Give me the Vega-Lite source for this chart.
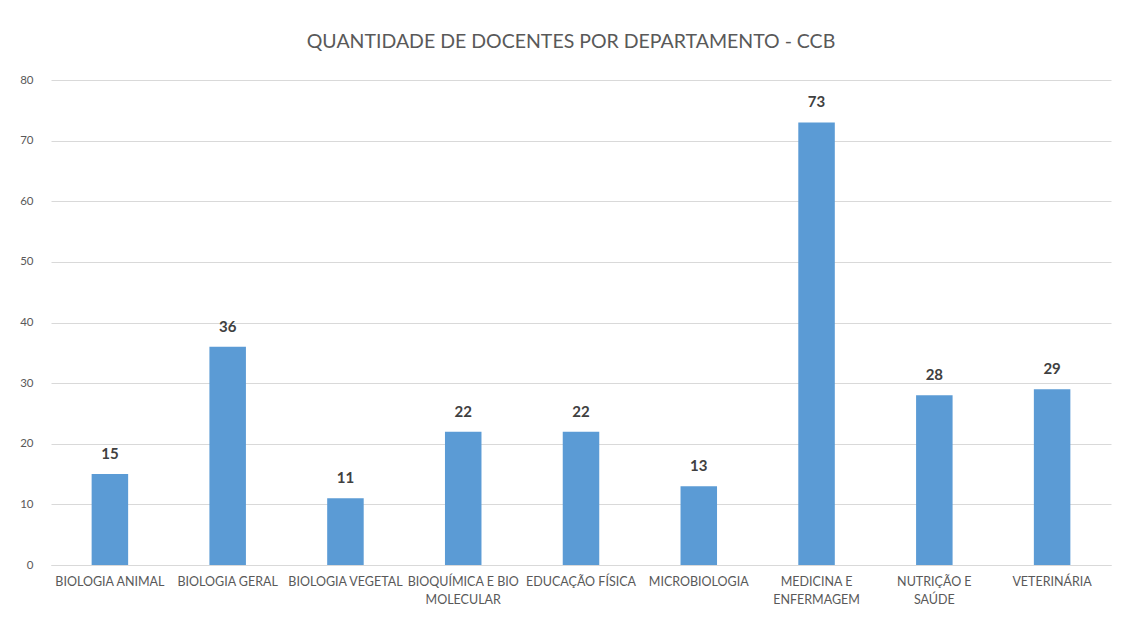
{
  "$schema": "https://vega.github.io/schema/vega-lite/v6.json",
  "autosize": {"type": "none"},
  "padding": {"left": 51, "top": 80, "right": 14, "bottom": 54},
  "width": 1060,
  "height": 485,
  "background": "white",
  "title": {
    "text": "QUANTIDADE DE DOCENTES POR DEPARTAMENTO - CCB",
    "font": "Lato",
    "fontSize": 19.5,
    "fontWeight": "normal",
    "color": "#595959",
    "anchor": "middle",
    "dx": -10,
    "offset": 22
  },
  "data": {
    "values": [
      {"departamento": "BIOLOGIA ANIMAL", "docentes": 15},
      {"departamento": "BIOLOGIA GERAL", "docentes": 36},
      {"departamento": "BIOLOGIA VEGETAL", "docentes": 11},
      {"departamento": "BIOQUÍMICA E BIO MOLECULAR", "docentes": 22},
      {"departamento": "EDUCAÇÃO FÍSICA", "docentes": 22},
      {"departamento": "MICROBIOLOGIA", "docentes": 13},
      {"departamento": "MEDICINA E ENFERMAGEM", "docentes": 73},
      {"departamento": "NUTRIÇÃO E SAÚDE", "docentes": 28},
      {"departamento": "VETERINÁRIA", "docentes": 29}
    ]
  },
  "encoding": {
    "x": {
      "field": "departamento",
      "type": "nominal",
      "sort": null,
      "scale": {"paddingInner": 0.69, "paddingOuter": 0.345},
      "axis": {
        "title": null,
        "labelAngle": 0,
        "labelFont": "Lato",
        "labelFontSize": 12.5,
        "labelColor": "#595959",
        "labelPadding": 10,
        "labelLineHeight": 18,
        "labelLimit": 200,
        "domain": true,
        "domainColor": "#d9d9d9",
        "ticks": false,
        "labelExpr": "datum.value == 'BIOQUÍMICA E BIO MOLECULAR' ? ['BIOQUÍMICA E BIO', 'MOLECULAR'] : datum.value == 'MEDICINA E ENFERMAGEM' ? ['MEDICINA E', 'ENFERMAGEM'] : datum.value == 'NUTRIÇÃO E SAÚDE' ? ['NUTRIÇÃO E', 'SAÚDE'] : datum.value"
      }
    },
    "y": {
      "field": "docentes",
      "type": "quantitative",
      "scale": {"domain": [0, 80]},
      "axis": {
        "title": null,
        "values": [0, 10, 20, 30, 40, 50, 60, 70, 80],
        "labelFont": "Lato",
        "labelFontSize": 11.5,
        "labelColor": "#595959",
        "labelPadding": 18,
        "domain": false,
        "ticks": false,
        "grid": true,
        "gridColor": "#d9d9d9",
        "gridWidth": 1
      }
    }
  },
  "layer": [
    {"mark": {"type": "bar", "color": "#5b9bd5"}},
    {
      "mark": {
        "type": "text",
        "dy": -12,
        "baseline": "bottom",
        "font": "Lato",
        "fontSize": 15,
        "fontWeight": "bold",
        "color": "#404040"
      },
      "encoding": {"text": {"field": "docentes", "type": "quantitative"}}
    }
  ],
  "config": {"view": {"stroke": null}}
}
